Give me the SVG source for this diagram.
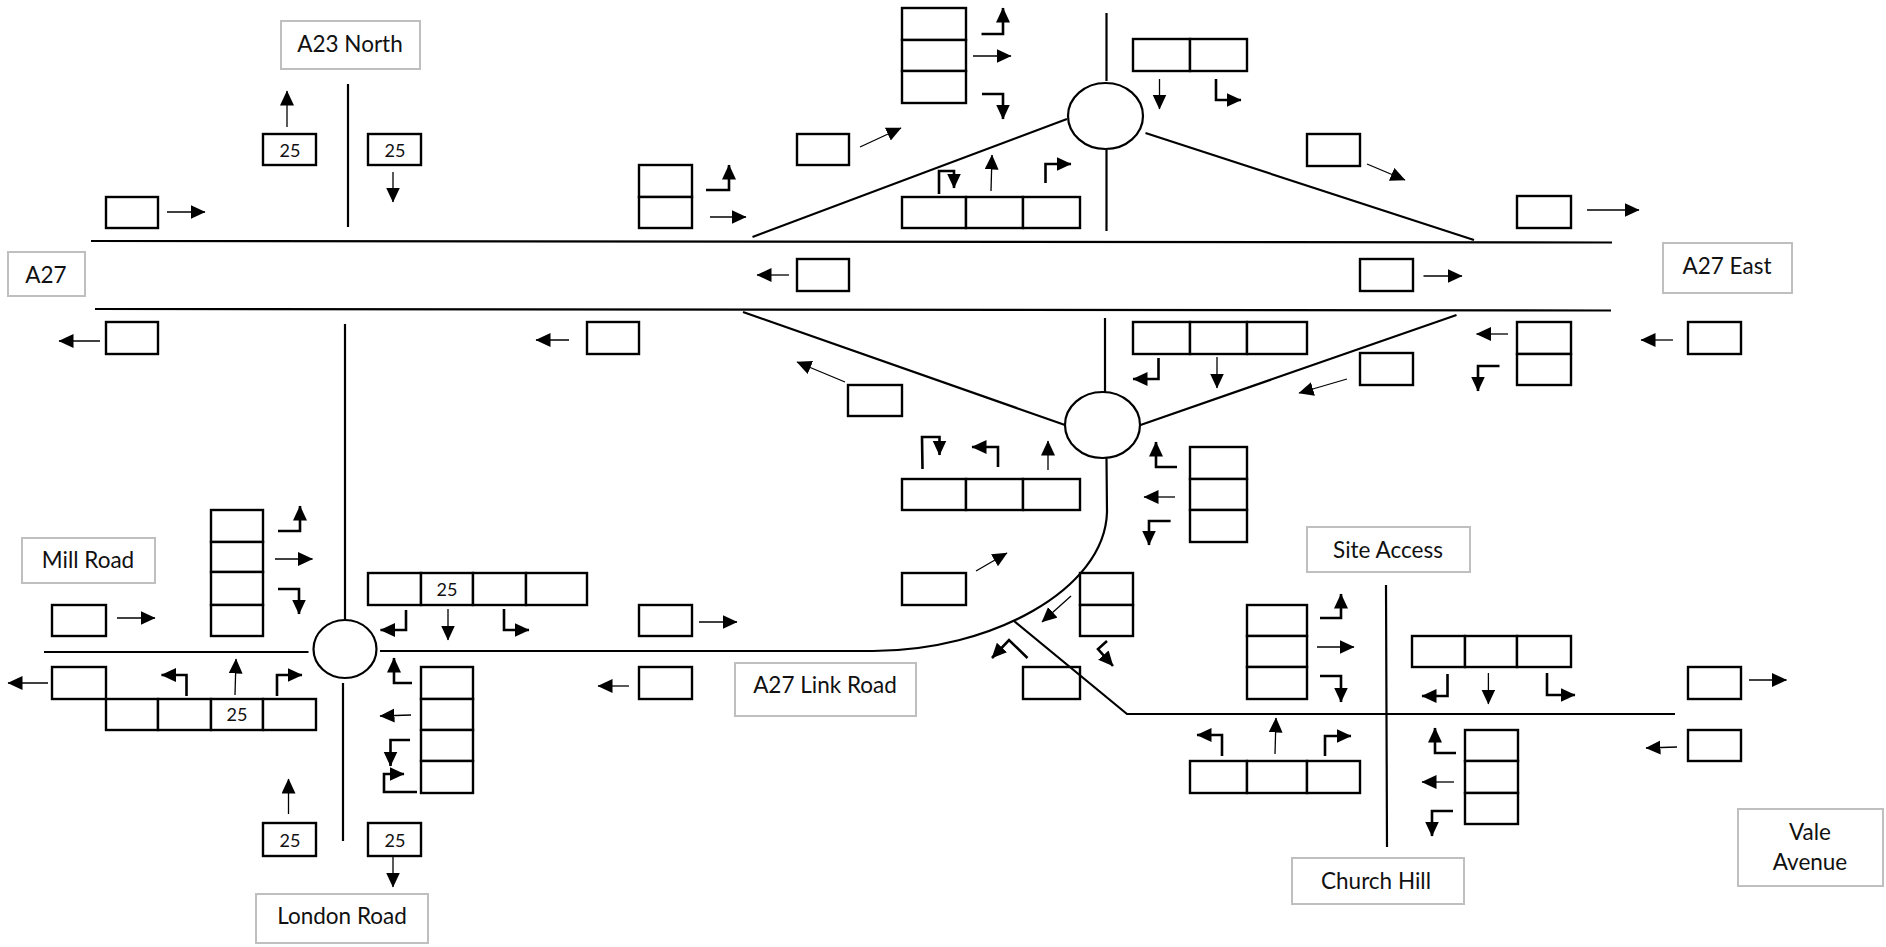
<svg xmlns="http://www.w3.org/2000/svg" width="1886" height="947" viewBox="0 0 1886 947">
<style>
.bg{fill:#fff}
.cell{fill:#fff;stroke:#000;stroke-width:2.4}
.lab{fill:#fff;stroke:#bfbfbf;stroke-width:2}
.t{font-family:"Lato","Liberation Sans",sans-serif;font-size:22.500px;fill:#111;text-anchor:middle}
.n{font-family:"Lato","Liberation Sans",sans-serif;font-size:18px;fill:#111;text-anchor:middle}
.road{fill:none;stroke:#000;stroke-width:2.2}
.junc{fill:#fff;stroke:#000;stroke-width:2.2}
.a{fill:none;stroke:#000;stroke-width:1.3;marker-end:url(#h)}
.b{fill:none;stroke:#000;stroke-width:2.6;marker-end:url(#h)}
</style>
<defs>
<marker id="h" markerUnits="userSpaceOnUse" markerWidth="17" markerHeight="16" refX="14.500" refY="7" orient="auto"><path d="M0,0L15,7L0,14Z" fill="#000"/></marker>
</defs>
<rect class="bg" width="1886" height="947"/>
<g id="connectors">
<path class="road" d="M91,241L1612,242.500M95,309L1611,310.500M348,84V227M345,324V620M343,683V841M44,652H308.500M380,651H873C990,651 1105,590 1107,512L1106.500,458M1106.500,13V81M1106.500,150V231M752.500,237L1067,119M1145.500,133L1474,240M743,312L1065,425M1105,318V392M1456.500,315L1140.500,425M1014,621L1127,714H1675M1386,585L1387,847"/>
<path class="a" d="M287,127V91"/>
<path class="a" d="M393,172V202"/>
<path class="a" d="M167,212H205"/>
<path class="a" d="M100,341H59"/>
<path class="a" d="M569,340H536"/>
<path class="a" d="M973,56H1011"/>
<path class="a" d="M1159.500,79V109"/>
<path class="a" d="M860,147L901,128"/>
<path class="a" d="M710,217H746"/>
<path class="a" d="M991,191L992,155"/>
<path class="a" d="M789,275H757"/>
<path class="a" d="M1367,164L1405,180"/>
<path class="a" d="M1587,210H1639"/>
<path class="a" d="M1423.500,276H1462"/>
<path class="a" d="M1508,334H1476.500"/>
<path class="a" d="M1673,340H1641"/>
<path class="a" d="M1347,379L1299,393"/>
<path class="a" d="M275,559H312.500"/>
<path class="a" d="M117,618H155"/>
<path class="a" d="M448,609V640"/>
<path class="a" d="M48,683H8"/>
<path class="a" d="M235,695L236,659"/>
<path class="a" d="M411,715L380,716"/>
<path class="a" d="M288.500,814V779"/>
<path class="a" d="M393,857V887"/>
<path class="a" d="M845,382L797,362"/>
<path class="a" d="M1048,470V441"/>
<path class="a" d="M1175,497H1144"/>
<path class="a" d="M1217,357V388"/>
<path class="a" d="M976,571L1007,553"/>
<path class="a" d="M1071,596L1042,622"/>
<path class="a" d="M699,622H737"/>
<path class="a" d="M629,686H598"/>
<path class="a" d="M1317,647H1354"/>
<path class="a" d="M1488.400,673V704"/>
<path class="a" d="M1749,680H1786.500"/>
<path class="a" d="M1677,747L1646,748"/>
<path class="a" d="M1275,754L1276,718"/>
<path class="a" d="M1454,782H1422"/>
<path class="b" d="M981.500,34H1003V8"/>
<path class="b" d="M982,94H1003V119"/>
<path class="b" d="M1216,79V100H1241"/>
<path class="b" d="M706,190H729V165"/>
<path class="b" d="M939,194V171H954V188"/>
<path class="b" d="M1045.500,183V164H1071"/>
<path class="b" d="M1499.500,366H1478V391"/>
<path class="b" d="M278,531H300V506"/>
<path class="b" d="M278,589H299V614"/>
<path class="b" d="M406,610V630H380.500"/>
<path class="b" d="M504,609V630H529"/>
<path class="b" d="M186.500,696V675H161.500"/>
<path class="b" d="M277,696V675H302"/>
<path class="b" d="M412,683H394V658"/>
<path class="b" d="M410,740H390.500V766"/>
<path class="b" d="M417,792H384V774H404"/>
<path class="b" d="M922.500,469L922,437H939.500V455"/>
<path class="b" d="M998,467V447H972"/>
<path class="b" d="M1177,467H1156V442"/>
<path class="b" d="M1170.600,521H1149V545"/>
<path class="b" d="M1158.500,358V379H1133"/>
<path class="b" d="M1107,641L1098,649L1113,666"/>
<path class="b" d="M1027.500,658L1009,640L992,658"/>
<path class="b" d="M1320,618H1341V594"/>
<path class="b" d="M1320,676H1341V702"/>
<path class="b" d="M1447.500,674V696H1422"/>
<path class="b" d="M1547,673V695H1575"/>
<path class="b" d="M1222,756V735H1197"/>
<path class="b" d="M1325,756V736H1351"/>
<path class="b" d="M1456,753H1435V728"/>
<path class="b" d="M1453,811H1432V836"/>
</g>
<g id="lab-a23-north"><rect class="lab" x="281" y="21" width="139" height="48"/><text class="t" x="350" y="52">A23 North</text></g>
<g id="lab-a27"><rect class="lab" x="8" y="252" width="77" height="44"/><text class="t" x="46" y="283">A27</text></g>
<g id="lab-a27-east"><rect class="lab" x="1663" y="243" width="129" height="50"/><text class="t" x="1727" y="274">A27 East</text></g>
<g id="lab-mill-road"><rect class="lab" x="22" y="538" width="133" height="45"/><text class="t" x="88" y="568">Mill Road</text></g>
<g id="lab-london-road"><rect class="lab" x="256" y="894" width="172" height="49"/><text class="t" x="342" y="924">London Road</text></g>
<g id="lab-a27-link-road"><rect class="lab" x="735" y="663" width="181" height="53"/><text class="t" x="825" y="693">A27 Link Road</text></g>
<g id="lab-site-access"><rect class="lab" x="1307" y="527" width="163" height="45"/><text class="t" x="1388" y="558">Site Access</text></g>
<g id="lab-church-hill"><rect class="lab" x="1292" y="858" width="172" height="46"/><text class="t" x="1376" y="889">Church Hill</text></g>
<g id="lab-vale-avenue"><rect class="lab" x="1738" y="809" width="145" height="77"/><text class="t" x="1810" y="840">Vale</text><text class="t" x="1810" y="870">Avenue</text></g>
<g id="rbt-north"><ellipse class="junc" cx="1105.500" cy="116" rx="37.500" ry="33"/></g>
<g id="rbt-south"><ellipse class="junc" cx="1102.500" cy="425" rx="37.500" ry="33"/></g>
<g id="rbt-west"><ellipse class="junc" cx="345" cy="649" rx="31.500" ry="29"/></g>
<g id="q-1"><rect class="cell" x="263" y="134" width="53" height="31"/><text class="n" x="290" y="157">25</text></g>
<g id="q-2"><rect class="cell" x="368" y="134" width="53" height="31"/><text class="n" x="395" y="157">25</text></g>
<g id="q-3"><rect class="cell" x="106" y="197" width="52" height="31"/></g>
<g id="q-4"><rect class="cell" x="106" y="322" width="52" height="32"/></g>
<g id="q-5"><rect class="cell" x="587" y="322" width="52" height="32"/></g>
<g id="q-6"><rect class="cell" x="902" y="8" width="64" height="32"/><rect class="cell" x="902" y="40" width="64" height="31"/><rect class="cell" x="902" y="71" width="64" height="32"/></g>
<g id="q-7"><rect class="cell" x="1133" y="39" width="57" height="32"/><rect class="cell" x="1190" y="39" width="57" height="32"/></g>
<g id="q-8"><rect class="cell" x="797" y="134" width="52" height="31"/></g>
<g id="q-9"><rect class="cell" x="639" y="165" width="53" height="32"/><rect class="cell" x="639" y="197" width="53" height="31"/></g>
<g id="q-10"><rect class="cell" x="902" y="197" width="64" height="31"/><rect class="cell" x="966" y="197" width="57" height="31"/><rect class="cell" x="1023" y="197" width="57" height="31"/></g>
<g id="q-11"><rect class="cell" x="797" y="259" width="52" height="32"/></g>
<g id="q-12"><rect class="cell" x="1133" y="322" width="57" height="32"/><rect class="cell" x="1190" y="322" width="57" height="32"/><rect class="cell" x="1247" y="322" width="60" height="32"/></g>
<g id="q-13"><rect class="cell" x="1307" y="134" width="53" height="32"/></g>
<g id="q-14"><rect class="cell" x="1517" y="196" width="54" height="32"/></g>
<g id="q-15"><rect class="cell" x="1360" y="259" width="53" height="32"/></g>
<g id="q-16"><rect class="cell" x="1517" y="322" width="54" height="32"/><rect class="cell" x="1517" y="354" width="54" height="31"/></g>
<g id="q-17"><rect class="cell" x="1688" y="322" width="53" height="32"/></g>
<g id="q-18"><rect class="cell" x="1360" y="353" width="53" height="32"/></g>
<g id="q-19"><rect class="cell" x="211" y="510" width="52" height="32"/><rect class="cell" x="211" y="542" width="52" height="30"/><rect class="cell" x="211" y="572" width="52" height="33"/><rect class="cell" x="211" y="605" width="52" height="31"/></g>
<g id="q-20"><rect class="cell" x="52" y="605" width="54" height="31"/></g>
<g id="q-21"><rect class="cell" x="368" y="573" width="53" height="32"/><rect class="cell" x="421" y="573" width="52" height="32"/><rect class="cell" x="473" y="573" width="53" height="32"/><rect class="cell" x="526" y="573" width="61" height="32"/><text class="n" x="447" y="596">25</text></g>
<g id="q-22"><rect class="cell" x="52" y="667" width="54" height="32"/></g>
<g id="q-23"><rect class="cell" x="106" y="699" width="52" height="31"/><rect class="cell" x="158" y="699" width="53" height="31"/><rect class="cell" x="211" y="699" width="52" height="31"/><rect class="cell" x="263" y="699" width="53" height="31"/><text class="n" x="237" y="721">25</text></g>
<g id="q-24"><rect class="cell" x="421" y="667" width="52" height="32"/><rect class="cell" x="421" y="699" width="52" height="31"/><rect class="cell" x="421" y="730" width="52" height="31"/><rect class="cell" x="421" y="761" width="52" height="32"/></g>
<g id="q-25"><rect class="cell" x="263" y="823" width="53" height="33"/><text class="n" x="290" y="847">25</text></g>
<g id="q-26"><rect class="cell" x="368" y="823" width="53" height="33"/><text class="n" x="395" y="847">25</text></g>
<g id="q-27"><rect class="cell" x="848" y="385" width="54" height="31"/></g>
<g id="q-28"><rect class="cell" x="902" y="479" width="64" height="31"/><rect class="cell" x="966" y="479" width="57" height="31"/><rect class="cell" x="1023" y="479" width="57" height="31"/></g>
<g id="q-29"><rect class="cell" x="1190" y="447" width="57" height="32"/><rect class="cell" x="1190" y="479" width="57" height="31"/><rect class="cell" x="1190" y="510" width="57" height="32"/></g>
<g id="q-30"><rect class="cell" x="902" y="573" width="64" height="32"/></g>
<g id="q-31"><rect class="cell" x="1080" y="573" width="53" height="32"/><rect class="cell" x="1080" y="605" width="53" height="31"/></g>
<g id="q-32"><rect class="cell" style="fill:none" x="1023" y="667" width="57" height="32"/></g>
<g id="q-33"><rect class="cell" x="639" y="605" width="53" height="31"/></g>
<g id="q-34"><rect class="cell" x="639" y="667" width="53" height="32"/></g>
<g id="q-35"><rect class="cell" x="1247" y="605" width="60" height="31"/><rect class="cell" x="1247" y="636" width="60" height="31"/><rect class="cell" x="1247" y="667" width="60" height="32"/></g>
<g id="q-36"><rect class="cell" x="1412" y="636" width="53" height="31"/><rect class="cell" x="1465" y="636" width="52" height="31"/><rect class="cell" x="1517" y="636" width="54" height="31"/></g>
<g id="q-37"><rect class="cell" x="1688" y="667" width="53" height="32"/></g>
<g id="q-38"><rect class="cell" x="1688" y="730" width="53" height="31"/></g>
<g id="q-39"><rect class="cell" x="1190" y="761" width="57" height="32"/><rect class="cell" x="1247" y="761" width="60" height="32"/><rect class="cell" x="1307" y="761" width="53" height="32"/></g>
<g id="q-40"><rect class="cell" x="1465" y="730" width="53" height="31"/><rect class="cell" x="1465" y="761" width="53" height="32"/><rect class="cell" x="1465" y="793" width="53" height="31"/></g>
</svg>
